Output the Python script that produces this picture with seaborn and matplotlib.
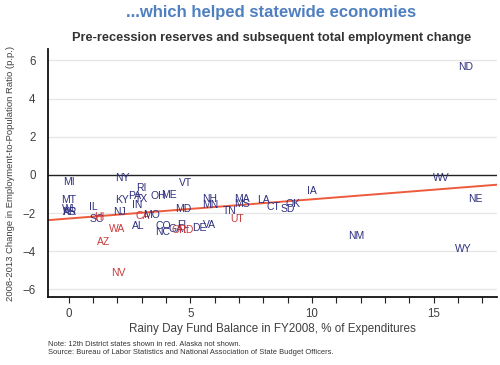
import matplotlib
matplotlib.use("Agg")
import matplotlib.pyplot as plt
import seaborn as sns
import pandas as pd
import numpy as np

# state labels, rainy day fund (% of expenditures), change in emp-pop ratio (p.p.)
states = ["ND", "MI", "NY", "RI", "VT", "WV", "IA", "PA", "TX", "OH", "ME",
          "MT", "KY", "IN", "IL", "WI", "KS", "AR", "NJ", "MD", "NH", "MN",
          "MA", "MS", "LA", "TN", "CT", "OK", "SD", "NE", "SC", "HI", "WA",
          "CA", "MO", "AL", "AZ", "NV", "CO", "NC", "FL", "GA", "OR", "ID",
          "DE", "VA", "UT", "NM", "WY"]
fund = [16.3, 0.0, 2.2, 3.0, 4.8, 15.3, 10.0, 2.7, 3.0, 3.7, 4.1,
        0.0, 2.2, 2.8, 1.0, 0.0, 0.0, 0.05, 2.1, 4.7, 5.8, 5.8,
        7.1, 7.1, 8.0, 6.6, 8.4, 9.2, 9.0, 16.7, 1.15, 1.25, 2.0,
        3.05, 3.4, 2.85, 1.45, 2.05, 3.9, 3.85, 4.7, 4.4, 4.55, 4.9,
        5.35, 5.8, 6.9, 11.8, 16.2]
emp_change = [5.63, -0.37, -0.16, -0.68, -0.42, -0.16, -0.84, -1.1, -1.26, -1.1, -1.05,
              -1.3, -1.3, -1.6, -1.7, -1.8, -1.95, -1.95, -1.95, -1.8, -1.26, -1.58,
              -1.26, -1.5, -1.3, -1.9, -1.7, -1.5, -1.8, -1.26, -2.3, -2.2, -2.84,
              -2.16, -2.1, -2.7, -3.5, -5.16, -2.7, -3.0, -2.6, -2.84, -2.9, -2.9,
              -2.8, -2.6, -2.3, -3.2, -3.9]
twelfth = ["HI", "WA", "CA", "AZ", "NV", "OR", "ID", "UT"]

df = pd.DataFrame({"state": states, "fund": fund, "emp": emp_change})
df["district"] = df["state"].isin(twelfth)

navy = "#2E2F7E"
red = "#C83A3C"
grey = "#404040"

sns.set_style("white")
plt.rcParams["font.family"] = ["Liberation Sans", "DejaVu Sans"]

fig = plt.figure(figsize=(5, 3.65), dpi=100)
ax = fig.add_axes([0.096, 0.186, 0.898, 0.68])

ax.set_xlim(-0.85, 17.6)
ax.set_ylim(-6.4, 6.6)

for y in [-6, -4, -2, 2, 4, 6]:
    ax.axhline(y, color="#E6E6E6", lw=0.9, zorder=0)
ax.axhline(0, color="#222222", lw=1.0, zorder=1)

sns.regplot(data=df, x="fund", y="emp", ax=ax, scatter=False, ci=None,
            truncate=False, line_kws={"color": "#EE5A3C", "lw": 1.4})

for _, r in df.iterrows():
    ax.text(r["fund"], r["emp"], r["state"], ha="center", va="center",
            fontsize=7.5, color=red if r["district"] else navy, zorder=3)

ax.set_xticks([0, 5, 10, 15])
ax.set_xticks(np.arange(0, 18, 1), minor=True)
ax.set_yticks([-6, -4, -2, 0, 2, 4, 6])
ax.tick_params(axis="x", which="both", direction="out", length=4, width=0.8,
               color="#222222", bottom=True, labelsize=8.3, labelcolor=grey, pad=4)
ax.tick_params(axis="y", length=0, labelsize=8.3, labelcolor=grey, pad=9)

for s in ["top", "right"]:
    ax.spines[s].set_visible(False)
for s in ["left", "bottom"]:
    ax.spines[s].set_color("#111111")
    ax.spines[s].set_linewidth(1.3)

ax.set_xlabel("Rainy Day Fund Balance in FY2008, % of Expenditures",
              fontsize=8.4, color=grey, labelpad=2)
ax.set_ylabel("2008-2013 Change in Employment-to-Population Ratio (p.p.)",
              fontsize=6.8, color=grey, labelpad=5)

fig.text(0.543, 0.965, "...which helped statewide economies", ha="center", va="center",
         fontsize=12, fontweight="bold", color="#4F7FC0")
fig.text(0.543, 0.895, "Pre-recession reserves and subsequent total employment change",
         ha="center", va="center", fontsize=9.2, fontweight="bold", color="#333333")
fig.text(0.096, 0.044, "Note: 12th District states shown in red. Alaska not shown.\n"
         "Source: Bureau of Labor Statistics and National Association of State Budget Officers.",
         ha="left", va="center", fontsize=5.45, color="#333333", linespacing=1.2)

fig.savefig("out.png", dpi=100)
